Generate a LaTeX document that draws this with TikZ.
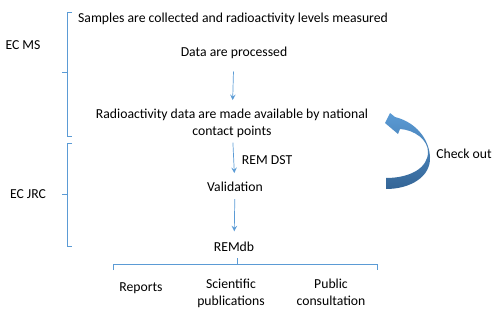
\documentclass[tikz,border=0pt]{standalone}
\usepackage{fontspec}
\setmainfont{Carlito}
\definecolor{lineblue}{RGB}{91,155,213}
\definecolor{deepblue}{RGB}{52,101,150}
\begin{document}
\begin{tikzpicture}[x=0.02cm, y=-0.02cm, >=stealth,
  every node/.style={inner sep=0pt, align=center, text=black, font=\fontsize{7.8}{9.6}\selectfont},
  flow/.style={->, lineblue, shorten <=4pt, shorten >=5pt},
  brace/.style={lineblue}]
\useasboundingbox (0,0) rectangle (500,314);
\node (samples) at (233,19) {Samples are collected and radioactivity levels measured};
\node (data) at (234,53) {Data are processed};
\node (radio) at (232,123.5) {Radioactivity data are made available by national\\contact points};
\node (valid) at (235,187) {Validation};
\node (remdb) at (234,247) {REMdb};
\node (reports) at (141,288) {Reports};
\node (pubs) at (231,293.5) {Scientific\\publications};
\node (public) at (331,292.5) {Public\\consultation};
\node (ms) at (23,45) {EC MS};
\node (jrc) at (28,194) {EC JRC};
\node (check) at (464,154) {Check out};
\draw[flow, shorten <=7pt] (data) -- (radio);
\draw[flow, shorten <=2.5pt] (radio) -- node[right=4.5pt] {REM DST} (valid);
\draw[flow, shorten >=6pt] (valid) -- (remdb);
% brackets
\draw[brace] (72,12) -- (67,12) -- (67,136) -- (72,136) (67,72) -- (62,72);
\draw[brace] (72,143) -- (67,143) -- (67,246) -- (72,246) (67,194) -- (62,194);
\draw[brace] (113,270) -- (113,264) -- (377,264) -- (377,270) (237,264) -- (237,258);
% check out arrow
\shade[top color=lineblue, bottom color=deepblue]
  (385,123) -- (390,113) -- (395,117) .. controls (415,122) and (429,138) .. (430,157)
  .. controls (431,177) and (410,189) .. (386,189) -- (386,178)
  .. controls (410,178) and (428,168) .. (428,152)
  .. controls (428,140) and (415,130) .. (400,129) -- (398,134) -- cycle;
\end{tikzpicture}
\end{document}
